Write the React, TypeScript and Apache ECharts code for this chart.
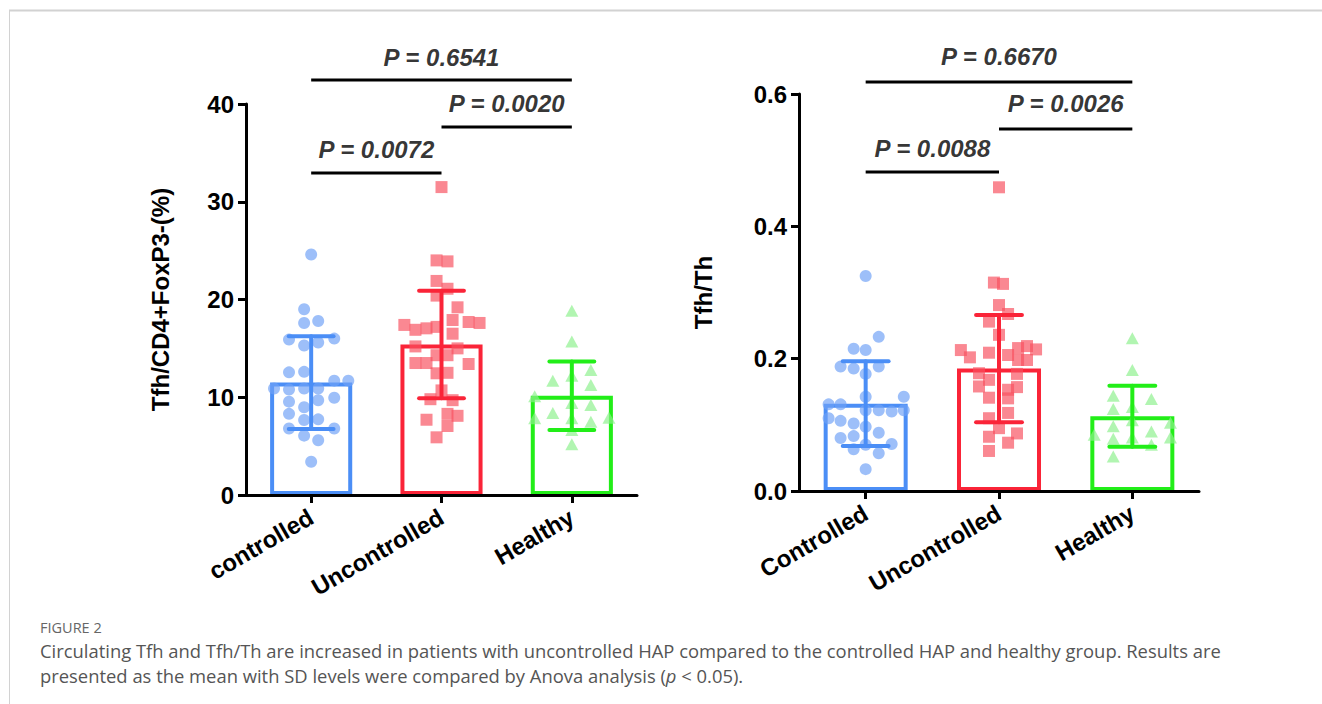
import React, { useEffect, useRef } from "react";
import * as echarts from "echarts";

// ---------- DATA ----------
const categoriesLeft = ["controlled", "Uncontrolled", "Healthy"];
const categoriesRight = ["Controlled", "Uncontrolled", "Healthy"];

// Left panel: Tfh/CD4+FoxP3-(%)
const leftMeans = [11.5, 15.4, 10.15];
const leftSD = [4.75, 5.5, 3.5];
const leftCtrlValues = [24.6, 19.0, 17.6, 17.8, 15.9, 15.3, 15.6, 16.0, 12.55, 12.6, 11.7, 11.7, 10.9, 10.8, 10.9, 10.9, 9.7, 9.95, 9.55, 8.3, 8.97, 7.67, 7.74, 6.8, 6.8, 6.07, 5.6, 3.4];
const leftCtrlJitter = [0, -0.054, -0.054, 0.054, -0.17, -0.054, 0.054, 0.177, -0.17, -0.054, 0.177, 0.285, -0.285, -0.17, -0.054, 0.054, 0.054, 0.177, -0.17, -0.17, -0.054, -0.054, 0.054, -0.17, 0.177, -0.054, 0.054, 0];
const leftUncValues = [31.5, 24.0, 23.9, 21.9, 21.1, 20.4, 19.2, 17.4, 16.9, 17.05, 17.2, 17.9, 17.7, 17.6, 16.5, 15.2, 15.0, 14.3, 14.3, 13.5, 13.5, 13.4, 12.45, 12.5, 10.7, 9.8, 9.7, 8.3, 8.1, 7.7, 7.06, 5.9];
const leftUncJitter = [0, -0.038, 0.046, -0.038, 0.046, -0.038, 0.123, -0.285, -0.2, -0.115, -0.038, 0.085, 0.208, 0.292, 0.085, -0.2, 0.123, -0.038, 0.046, -0.2, -0.115, 0.208, -0.038, 0.046, 0, -0.085, 0.085, 0.046, 0.123, -0.115, 0.046, -0.038];
const leftHealthyValues = [18.85, 15.7, 12.8, 11.7, 12.2, 11.25, 10.1, 9.4, 9.2, 7.85, 8.4, 7.85, 7.5, 7.9, 6.65, 5.2];
const leftHealthyJitter = [0, 0, 0.146, -0.146, 0, 0.146, -0.285, 0, 0.146, -0.285, -0.146, 0, 0.146, 0.285, 0, 0];

// Right panel: Tfh/Th
const rightMeans = [0.132, 0.185, 0.113];
const rightSD = [0.064, 0.081, 0.046];
const rightCtrlValues = [0.325, 0.233, 0.215, 0.213, 0.188, 0.185, 0.188, 0.177, 0.1425, 0.1425, 0.131, 0.131, 0.122, 0.122, 0.12, 0.122, 0.11, 0.106, 0.102, 0.097, 0.088, 0.08, 0.083, 0.071, 0.063, 0.07, 0.057, 0.033];
const rightCtrlJitter = [0, 0.098, -0.09, 0, -0.188, -0.09, 0.098, 0, 0, 0.286, -0.278, -0.188, 0, 0.098, 0.195, 0.286, -0.278, -0.188, -0.09, 0, 0.098, -0.188, -0.09, 0.195, -0.09, 0, 0.098, 0];
const rightUncValues = [0.459, 0.315, 0.313, 0.281, 0.256, 0.2675, 0.236, 0.213, 0.202, 0.209, 0.216, 0.219, 0.214, 0.2055, 0.198, 0.198, 0.178, 0.168, 0.177, 0.158, 0.153, 0.157, 0.141, 0.14, 0.118, 0.11, 0.095, 0.087, 0.082, 0.073, 0.0605];
const rightUncJitter = [0, -0.038, 0.03, 0, -0.075, 0.068, 0, -0.286, -0.218, -0.075, 0.143, 0.21, 0.278, 0.068, 0.143, 0.21, -0.15, -0.075, 0.135, -0.15, 0.068, 0.135, -0.075, 0.068, 0.068, -0.075, 0, 0.135, -0.075, 0.068, -0.075];
const rightHealthyValues = [0.231, 0.183, 0.144, 0.139, 0.124, 0.127, 0.107, 0.103, 0.098, 0.09, 0.085, 0.081, 0.079, 0.081, 0.07, 0.052];
const rightHealthyJitter = [0, 0, -0.143, 0.143, -0.143, 0, 0, 0.286, -0.143, 0.143, -0.286, 0, -0.143, 0.286, 0.143, -0.143];

// Significance brackets
const leftPValues = ["P = 0.6541", "P = 0.0020", "P = 0.0072"];
const leftBracketFrom = [0, 1, 0];
const leftBracketTo = [2, 2, 1];
const leftBracketLine = [42.45, 37.65, 32.95];
const leftBracketText = [44.8, 40.1, 35.3];
const rightPValues = ["P = 0.6670", "P = 0.0026", "P = 0.0088"];
const rightBracketFrom = [0, 1, 0];
const rightBracketTo = [2, 2, 1];
const rightBracketLine = [0.618, 0.547, 0.482];
const rightBracketText = [0.656, 0.585, 0.518];

const leftTicks = { min: 0, max: 40, interval: 10 };
const rightTicks = { min: 0, max: 0.6, interval: 0.2 };

const captionTitle = "FIGURE 2";
const captionLine1 =
  "Circulating Tfh and Tfh/Th are increased in patients with uncontrolled HAP compared to the controlled HAP and healthy group. Results are";
const captionLine2a = "presented as the mean with SD levels were compared by Anova analysis (";
const captionLine2b = "p";
const captionLine2c = " < 0.05).";

// ---------- STYLE ----------
const barColors = ["#4B8EF6", "#FA2438", "#22EE18"];
const pointColors = ["rgba(110,160,246,0.85)", "rgba(247,80,95,0.85)", "rgba(140,240,140,0.85)"];
const symbols = ["circle", "rect", "triangle"];
const FONT = "'Liberation Sans', Arial, Helvetica, sans-serif";

function buildPanel(
  gi: number,
  categories: string[],
  means: number[],
  sds: number[],
  groups: { values: number[]; jitter: number[] }[],
  pTexts: string[],
  bFrom: number[],
  bTo: number[],
  bLine: number[],
  bText: number[],
  ticks: { min: number; max: number; interval: number },
  yName: string,
  nameGap: number,
  labelFmt: (v: number) => string
) {
  const xCat = {
    type: "category",
    gridIndex: gi,
    data: categories,
    z: 10,
    axisLine: { show: true, onZero: false, lineStyle: { color: "#000", width: 3 } },
    axisTick: { show: true, alignWithLabel: true, length: 8, lineStyle: { color: "#000", width: 3 } },
    axisLabel: {
      rotate: 30,
      margin: 20,
      color: "#000",
      fontSize: 24,
      fontWeight: "bold",
      fontFamily: FONT,
    },
  };
  const xVal = {
    type: "value",
    gridIndex: gi,
    min: -0.5,
    max: 2.5,
    show: false,
  };
  const y = {
    type: "value",
    gridIndex: gi,
    min: ticks.min,
    max: ticks.max,
    interval: ticks.interval,
    name: yName,
    nameLocation: "middle",
    nameRotate: 90,
    nameGap,
    nameTextStyle: { color: "#000", fontSize: 24, fontWeight: "bold", fontFamily: FONT },
    axisLine: { show: true, onZero: false, lineStyle: { color: "#000", width: 3 } },
    axisTick: { show: true, length: 8, lineStyle: { color: "#000", width: 3 } },
    splitLine: { show: false },
    axisLabel: {
      color: "#000",
      fontSize: 24,
      fontWeight: "bold",
      fontFamily: FONT,
      margin: 12,
      formatter: labelFmt,
    },
  };
  const xCatIdx = gi * 2;
  const xValIdx = gi * 2 + 1;
  const series: any[] = [];
  series.push({
    type: "bar",
    xAxisIndex: xCatIdx,
    yAxisIndex: gi,
    barWidth: "63%",
    z: 1,
    data: means.map((m, i) => ({
      value: m,
      itemStyle: { color: "rgba(255,255,255,0)", borderColor: barColors[i], borderWidth: 4 },
    })),
  });
  groups.forEach((g, gIdx) => {
    series.push({
      type: "scatter",
      xAxisIndex: xValIdx,
      yAxisIndex: gi,
      symbol: symbols[gIdx],
      symbolSize: gIdx === 2 ? [13, 12] : 12,
      itemStyle: { color: pointColors[gIdx] },
      z: 2,
      data: g.values.map((v, i) => [gIdx + g.jitter[i], v]),
    });
  });
  series.push({
    type: "custom",
    xAxisIndex: xValIdx,
    yAxisIndex: gi,
    z: 3,
    data: means.map((m, i) => [i, m, sds[i]]),
    renderItem: (params: any, api: any) => {
      const x = api.value(0);
      const m = api.value(1);
      const s = api.value(2);
      const color = barColors[params.dataIndex];
      const top = api.coord([x, m + s]);
      const bot = api.coord([x, m - s]);
      const tl = api.coord([x - 0.172, m + s]);
      const tr = api.coord([x + 0.172, m + s]);
      const bl = api.coord([x - 0.172, m - s]);
      const br = api.coord([x + 0.172, m - s]);
      const st = { stroke: color, lineWidth: 4, lineCap: "round" };
      return {
        type: "group",
        children: [
          { type: "line", shape: { x1: top[0], y1: top[1], x2: bot[0], y2: bot[1] }, style: st },
          { type: "line", shape: { x1: tl[0], y1: tl[1], x2: tr[0], y2: tr[1] }, style: st },
          { type: "line", shape: { x1: bl[0], y1: bl[1], x2: br[0], y2: br[1] }, style: st },
        ],
      };
    },
  });
  pTexts.forEach((t, i) => {
    series.push({
      type: "line",
      xAxisIndex: xValIdx,
      yAxisIndex: gi,
      symbol: "none",
      clip: false,
      z: 3,
      lineStyle: { color: "#000", width: 3 },
      data: [
        [bFrom[i], bLine[i]],
        [bTo[i], bLine[i]],
      ],
    });
  });
  series.push({
    type: "scatter",
    xAxisIndex: xValIdx,
    yAxisIndex: gi,
    clip: false,
    symbolSize: 1,
    itemStyle: { color: "rgba(0,0,0,0)" },
    z: 4,
    label: {
      show: true,
      position: "inside",
      formatter: "{b}",
      color: "#000",
      fontSize: 24,
      fontWeight: "bold",
      fontStyle: "italic",
      fontFamily: FONT,
    },
    data: pTexts.map((t, i) => ({ name: t, value: [(bFrom[i] + bTo[i]) / 2, bText[i]] })),
  });
  return { xAxes: [xCat, xVal], y, series };
}

export default function App() {
  const ref = useRef<HTMLDivElement>(null);
  useEffect(() => {
    if (!ref.current) return;
    const chart = echarts.init(ref.current, null, { renderer: "svg" });
    const left = buildPanel(
      0,
      categoriesLeft,
      leftMeans,
      leftSD,
      [
        { values: leftCtrlValues, jitter: leftCtrlJitter },
        { values: leftUncValues, jitter: leftUncJitter },
        { values: leftHealthyValues, jitter: leftHealthyJitter },
      ],
      leftPValues,
      leftBracketFrom,
      leftBracketTo,
      leftBracketLine,
      leftBracketText,
      leftTicks,
      "Tfh/CD4+FoxP3-(%)",
      74,
      (v: number) => String(v)
    );
    const right = buildPanel(
      1,
      categoriesRight,
      rightMeans,
      rightSD,
      [
        { values: rightCtrlValues, jitter: rightCtrlJitter },
        { values: rightUncValues, jitter: rightUncJitter },
        { values: rightHealthyValues, jitter: rightHealthyJitter },
      ],
      rightPValues,
      rightBracketFrom,
      rightBracketTo,
      rightBracketLine,
      rightBracketText,
      rightTicks,
      "Tfh/Th",
      84,
      (v: number) => v.toFixed(1)
    );
    const capFont = "'Open Sans', 'Noto Sans', sans-serif";
    chart.setOption({
      animation: false,
      backgroundColor: "#fff",
      grid: [
        { left: 246, top: 104, width: 391, height: 391 },
        { left: 799, top: 94, width: 400, height: 397 },
      ],
      xAxis: [...left.xAxes, ...right.xAxes],
      yAxis: [left.y, right.y],
      series: [...left.series, ...right.series],
      graphic: [
        { type: "line", shape: { x1: 9, y1: 10.5, x2: 1322, y2: 10.5 }, style: { stroke: "#d2d2d2", lineWidth: 2 } },
        { type: "line", shape: { x1: 9.5, y1: 10, x2: 9.5, y2: 704 }, style: { stroke: "#d2d2d2", lineWidth: 1 } },
        {
          type: "text",
          x: 40,
          y: 627,
          style: { text: captionTitle, fontSize: 14.5, fontFamily: capFont, verticalAlign: "middle", fill: "#666" },
        },
        {
          type: "text",
          x: 40,
          y: 650,
          style: { text: captionLine1, fontSize: 18.4, fontFamily: capFont, verticalAlign: "middle", fill: "#555" },
        },
        {
          type: "text",
          x: 40,
          y: 675,
          style: {
            text: "{a|" + captionLine2a + "}{i|" + captionLine2b + "}{a|" + captionLine2c + "}",
            fontSize: 18.4,
            fontFamily: capFont,
            fill: "#555",
            verticalAlign: "middle",
            rich: {
              a: { fontSize: 18.4, fill: "#555", fontFamily: capFont },
              i: { fontSize: 18.4, fill: "#555", fontStyle: "italic", fontFamily: capFont },
            },
          },
        },
      ],
    });
    return () => chart.dispose();
  }, []);
  return (
    <div
      ref={ref}
      style={{ position: "fixed", left: 0, top: 0, width: 1322, height: 704, background: "#fff" }}
    />
  );
}
